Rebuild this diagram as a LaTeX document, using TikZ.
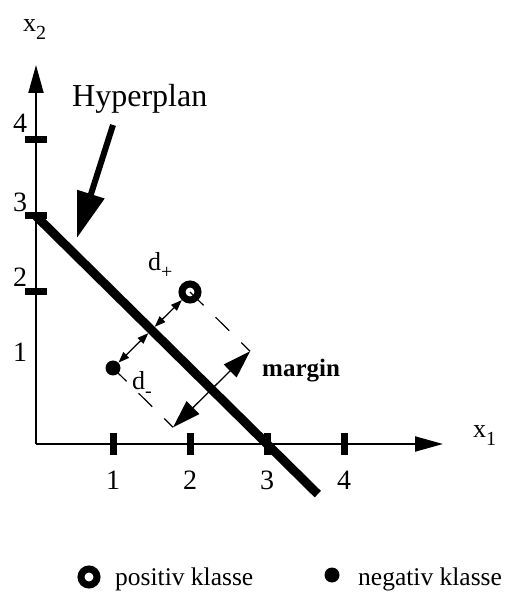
\documentclass[tikz,border=0pt]{standalone}
\usepackage{fontspec}
\setmainfont{Liberation Serif}
\usetikzlibrary{arrows.meta}
\newcommand{\mysub}[1]{\raisebox{-8pt}{\fontsize{20}{20}\selectfont #1}}
\tikzset{
  axisline/.style={line width=2pt, -{Triangle[length=28pt,width=15pt]}},
  tickmark/.style={line width=7pt},
  hyper/.style={line width=9pt},
  bigarrow/.style={line width=6pt, -{Triangle[length=46pt,width=27pt]}},
  darrow/.style={line width=1.3pt, {Triangle[length=11pt,width=8pt]}-{Triangle[length=11pt,width=8pt]}},
  marrow/.style={line width=1.3pt, {Triangle[length=28pt,width=18pt]}-{Triangle[length=28pt,width=18pt]}},
  mdash/.style={line width=1.2pt, dash pattern=on 19pt off 17pt},
  posring/.style={circle, draw, line width=7pt, minimum size=16pt, inner sep=0pt},
  negdot/.style={circle, fill, minimum size=15pt, inner sep=0pt},
  numlbl/.style={font=\fontsize{28}{28}\selectfont, inner sep=0pt},
  txt/.style={inner sep=0pt, anchor=base west, font=\fontsize{26}{26}\selectfont},
}
\begin{document}
\begin{tikzpicture}[x=77pt,y=76pt]
\useasboundingbox (-36pt,-148pt) rectangle (468pt,444pt);
% axes
\coordinate (O) at (0,0);
\coordinate (xe) at (407pt,0pt);
\coordinate (ye) at (0pt,379pt);
\draw[axisline] (O) -- (xe);
\draw[axisline] (O) -- (ye);
\foreach \i in {1,2,3,4}{
  \coordinate (xt\i) at (\i,0);
  \draw[tickmark] ([yshift=-11pt]xt\i) -- ([yshift=11pt]xt\i);
  \node[numlbl] (xl\i) at (\i,-36pt) {\i};
}
\foreach \i in {2,3,4}{
  \coordinate (yt\i) at (0,\i);
  \draw[tickmark] ([xshift=-11pt]yt\i) -- ([xshift=11pt]yt\i);
}
\node[numlbl] (yl1) at (-16pt,92pt) {1};
\node[numlbl] (yl2) at (-16pt,167pt) {2};
\node[numlbl] (yl3) at (-16pt,242pt) {3};
\node[numlbl] (yl4) at (-16pt,321pt) {4};
% axis names
\node[txt] (x2) at (-13pt,412pt) {x\mysub{2}};
\node[txt] (x1) at (437pt,7pt) {x\mysub{1}};
% hyperplane
\coordinate (hA) at (0,3);
\coordinate (hB) at (3.66,-0.66);
\draw[hyper] (hA) -- (hB);
% Hyperplan label and arrow
\node[txt, font=\fontsize{32}{32}\selectfont] (hyp) at (36pt,337pt) {Hyperplan};
\coordinate (hs) at (77pt,319pt);
\coordinate (ht) at (41pt,206pt);
\draw[bigarrow] (hs) -- (ht);
% points
\coordinate (p) at (2,2);
\coordinate (n) at (1,1);
\coordinate (foot) at (1.5,1.5);
\coordinate (mp) at (2.78,1.22);
\coordinate (mn) at (1.78,0.22);
\draw[mdash] (p) -- (mp);
\draw[mdash] (n) -- (mn);
\draw[marrow] (mn) -- (mp);
\node[posring] (pos) at (p) {};
\node[negdot] (neg) at (n) {};
\draw[darrow, shorten >=4.5pt] (pos) -- (foot);
\draw[darrow, shorten >=4.5pt] (neg) -- (foot);
\node[txt] (dp) at (112pt,173pt) {d\mysub{+}};
\node[txt] (dm) at (96pt,55pt) {d\mysub{-}};
\node[txt, font=\fontsize{25}{25}\selectfont\bfseries] (mg) at (226pt,67pt) {margin};
% legend
\node[posring] (lp) at (53pt,-133pt) {};
\node[txt, font=\fontsize{25.5}{25.5}\selectfont] (lpt) at (79pt,-141pt) {positiv klasse};
\node[negdot] (ln) at (296pt,-131pt) {};
\node[txt, font=\fontsize{25.5}{25.5}\selectfont] (lnt) at (322pt,-141pt) {negativ klasse};
\end{tikzpicture}
\end{document}
